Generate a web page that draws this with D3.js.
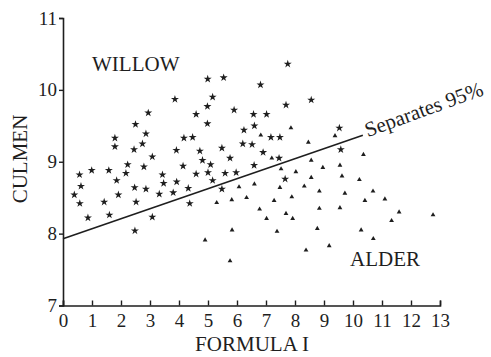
<!DOCTYPE html>
<html><head><meta charset="utf-8">
<script src="https://cdn.jsdelivr.net/npm/d3@7"></script>
<style>
html,body{margin:0;padding:0;background:#fff;}
svg{display:block;}
text{font-family:"Liberation Serif","DejaVu Serif",serif;fill:#1e1e1e;}
</style></head>
<body><svg id="c" width="491" height="357"></svg>
<script>
// Willow (stars): [formula I, culmen]
const willowX = [4.99,5.54,5.16,3.86,5.90,4.98,2.94,4.59,2.50,4.98,6.24,2.86,4.17,4.47,1.79,2.74,1.79,2.45,3.91,4.72,5.48,6.20,3.08,4.81,5.76,2.23,2.79,4.14,5.09,0.57,0.99,1.58,2.17,3.43,4.59,5.00,5.59,5.97,7.75,6.81,7.69,8.56,6.57,7.02,6.60,7.17,7.48,6.52,6.90,7.45,6.59,9.53,9.58,7.66,0.62,0.39,0.58,0.86,1.85,1.91,1.42,1.60,2.47,2.86,2.52,3.32,3.47,3.08,2.48,3.92,3.80,4.32,4.37,5.16,5.48];
const willowY = [10.15,10.17,9.90,9.87,9.72,9.77,9.68,9.66,9.52,9.53,9.44,9.39,9.33,9.34,9.33,9.25,9.21,9.17,9.16,9.15,9.19,9.25,9.07,9.02,9.05,8.96,8.93,8.94,8.96,8.82,8.88,8.88,8.84,8.82,8.83,8.85,8.84,8.85,10.36,10.07,9.79,9.86,9.66,9.66,9.50,9.34,9.34,9.24,9.13,9.05,8.95,9.47,9.17,8.76,8.66,8.54,8.42,8.22,8.74,8.54,8.44,8.26,8.64,8.62,8.44,8.55,8.70,8.23,8.04,8.72,8.57,8.63,8.42,8.74,8.62];
// Alder (triangles)
const alderX = [7.86,9.38,6.82,8.46,10.36,7.20,8.56,9.55,7.52,8.03,8.96,8.56,9.62,10.22,6.07,6.60,7.48,8.32,8.84,9.72,10.69,5.30,5.82,6.33,7.28,7.89,10.41,11.10,6.78,7.02,7.69,7.92,8.84,9.55,11.59,11.33,12.76,5.83,7.38,8.77,10.28,4.90,10.70,8.38,9.18,5.76];
const alderY = [9.47,9.36,9.37,9.27,9.10,9.05,9.02,8.95,8.90,8.86,8.92,8.78,8.80,8.75,8.65,8.69,8.64,8.66,8.59,8.56,8.59,8.43,8.47,8.50,8.46,8.51,8.46,8.48,8.34,8.21,8.28,8.21,8.35,8.36,8.30,8.18,8.26,8.05,8.03,8.07,8.05,7.91,7.93,7.77,7.83,7.62];
// separating line
const lineX = [0, 10.34];
const lineY = [7.93, 9.37];
const xTicks = [0,1,2,3,4,5,6,7,8,9,10,11,12,13];
const yTicks = [7,8,9,10,11];
const xTitle = "FORMULA I";
const yTitle = "CULMEN";
const lineLabel = "Separates 95%";
const groupLabels = ["WILLOW","ALDER"];

const ink = "#1e1e1e";
const svg = d3.select("#c");
const x = d3.scaleLinear().domain([0,13]).range([63,440]);
const y = d3.scaleLinear().domain([7,11]).range([305.5,18]);

const gx = svg.append("g").attr("transform",`translate(0,${y(7)})`)
  .call(d3.axisBottom(x).tickValues(xTicks).tickSize(-5).tickPadding(8).tickFormat(d3.format("d")));
const gy = svg.append("g").attr("transform",`translate(${x(0)},0)`)
  .call(d3.axisLeft(y).tickValues(yTicks).tickSize(4).tickPadding(2).tickFormat(d3.format("d")));
[gx,gy].forEach(g=>{
  g.select(".domain").attr("stroke",ink).attr("stroke-width",1.6);
  g.selectAll(".tick line").attr("stroke",ink).attr("stroke-width",1.4);
  g.selectAll(".tick text").attr("fill",ink).style("font-family","'Liberation Serif',serif").style("font-size","19px");
});
gx.selectAll(".tick text").attr("dy","0.71em");

// points
const star = d3.symbol().type(d3.symbolStar).size(20);
const tri = d3.symbol().type(d3.symbolTriangle).size(10);
svg.append("g").selectAll("path").data(willowX.map((v,i)=>[v,willowY[i]])).join("path")
  .attr("d",star).attr("fill",ink)
  .attr("transform",d=>`translate(${x(d[0])},${y(d[1])})`);
svg.append("g").selectAll("path").data(alderX.map((v,i)=>[v,alderY[i]])).join("path")
  .attr("d",tri).attr("fill",ink)
  .attr("transform",d=>`translate(${x(d[0])},${y(d[1])})`);

// line
svg.append("line")
  .attr("x1",x(lineX[0])).attr("y1",y(lineY[0]))
  .attr("x2",x(lineX[1])).attr("y2",y(lineY[1]))
  .attr("stroke",ink).attr("stroke-width",1.6);

const ang = -20;
svg.append("text").attr("transform",`translate(${x(lineX[1])+5},${y(lineY[1])+2}) rotate(${ang})`)
  .style("font-size","21px").text(lineLabel);

svg.append("text").attr("x",92).attr("y",71).style("font-size","21px").text(groupLabels[0]);
svg.append("text").attr("x",350).attr("y",266).style("font-size","21px").text(groupLabels[1]);

svg.append("text").attr("x",252).attr("y",351).attr("text-anchor","middle").style("font-size","21px").text(xTitle);
svg.append("text").attr("transform","translate(27,159) rotate(-90)").attr("text-anchor","middle").style("font-size","21px").text(yTitle);
</script></body></html>
